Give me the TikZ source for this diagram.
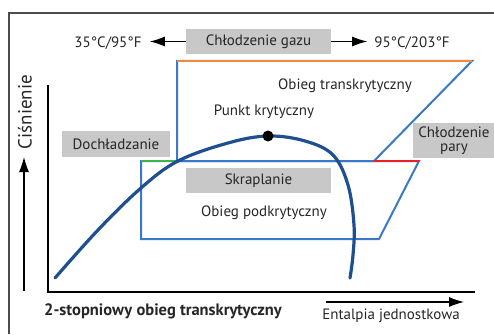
\documentclass[tikz,border=0pt]{standalone}
\usepackage{fontspec}
\setmainfont{PT Sans}
\usetikzlibrary{arrows.meta}
\definecolor{domeblue}{HTML}{1D4F91}
\definecolor{cycblue}{HTML}{3A78C8}
\definecolor{boxgray}{HTML}{C8C8C8}
\definecolor{orangeln}{HTML}{F08A3C}
\definecolor{greenln}{HTML}{3CB44B}
\definecolor{redln}{HTML}{E8202A}
\tikzset{
  lbl/.style={font=\fontsize{15}{17}\selectfont, inner sep=0pt, text=black!85},
  graybox/.style={lbl, fill=boxgray, align=center},
  cyc/.style={draw=cycblue, line width=2pt, line join=miter},
  axisln/.style={draw=black, line width=2pt},
  thinarrow/.style={draw=black, line width=1.1pt, -{Latex[length=15pt,width=10pt]}},
}
\begin{document}
\begin{tikzpicture}[x=1pt,y=-1pt]
\useasboundingbox (0,0) rectangle (494,334);
% frame
\draw[draw=black!70, line width=1.3pt] (9,334) -- (9,13) -- (494,13);
% axes
\coordinate (o) at (47.5,292);
\coordinate (ytop) at (47.5,85);
\coordinate (xend) at (475,292);
\draw[axisln] (ytop) -- (o) -- (xend);
% axis arrows
\coordinate (ya) at (24,291);
\coordinate (yb) at (24,157);
\draw[thinarrow] (ya) -- (yb);
\node[lbl, rotate=90, font=\fontsize{19}{21}\selectfont] (cis) at (25,112) {Ciśnienie};
\coordinate (xa) at (326,302);
\coordinate (xb) at (464,302);
\draw[thinarrow] (xa) -- (xb);
\node[lbl] (ent) at (391,316) {Entalpia jednostkowa};
\node[lbl, font=\bfseries\fontsize{16.5}{18}\selectfont] (title) at (163,311) {2-stopniowy obieg transkrytyczny};
% top labels
\node[graybox, minimum width=145pt, minimum height=25pt] (gaz) at (258.5,41.5) {Chłodzenie gazu};
\node[lbl] (t35) at (108,43) {35°C/95°F};
\node[lbl] (t95) at (412,43) {95°C/203°F};
\draw[thinarrow] (gaz.west) -- ++(-36,0) coordinate (l35);
\draw[thinarrow] (gaz.east) -- ++(36,0) coordinate (r95);
% cycles
\coordinate (A) at (141,161);
\coordinate (B) at (177,161);
\coordinate (C) at (177,61);
\coordinate (D) at (472,61);
\coordinate (E) at (374,161);
\coordinate (F) at (419,161);
\coordinate (G) at (379,239);
\coordinate (H) at (141,239);
\draw[cyc] (B) -- (C) -- (D) -- (E) -- (B);
\draw[cyc] (A) -- (F) -- (G) -- (H) -- cycle;
\draw[draw=orangeln, line width=2.2pt] (C) -- (D);
\draw[draw=greenln, line width=2.2pt] (A) -- (B);
\draw[draw=redln, line width=2.2pt] (E) -- (F);
% dome
\draw[draw=domeblue, line width=3.2pt, line cap=round] plot[smooth, tension=0.6] coordinates {(55,278) (98,230) (141,188) (178,161) (228,143) (268,136) (305,141) (333,155) (348,185) (354,225) (353,255) (350,278)};
\fill[black] (268,136) circle (5.5pt) coordinate (kp);
% labels
\node[lbl] (punkt) at (264,112) {Punkt krytyczny};
\node[lbl] (trans) at (345,86) {Obieg transkrytyczny};
\node[graybox, minimum width=108pt, minimum height=26pt] (doch) at (116,144) {Dochładzanie};
\node[graybox, minimum width=145pt, minimum height=25pt] (skr) at (258.5,180.5) {Skraplanie};
\node[lbl] (pod) at (264,213) {Obieg podkrytyczny};
\node[graybox, minimum width=82pt, minimum height=35pt, font=\fontsize{15}{14}\selectfont] (pary) at (454,140.5) {Chłodzenie\\pary};
\end{tikzpicture}
\end{document}
